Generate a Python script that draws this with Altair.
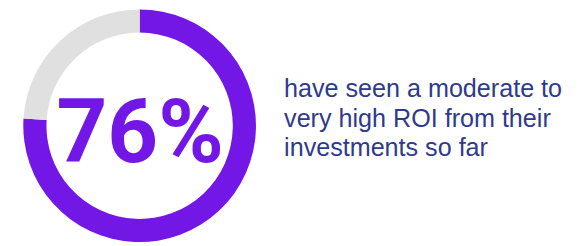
import altair as alt
import pandas as pd

categories = ["moderate to very high ROI", "other"]
shares = [76, 24]
order_idx = [0, 1]
big_label = "76%"
caption_lines = ["have seen a moderate to", "very high ROI from their", "investments so far"]

PURPLE = "#7317E6"
GREY = "#E0E0E0"
NAVY = "#2E3A8C"

df = pd.DataFrame({"category": categories, "share": shares, "ord": order_idx})

CX, CY = 133.5, 117.7

donut = alt.Chart(df).mark_arc(stroke=None).encode(
    theta=alt.Theta("share:Q", stack=True),
    order=alt.Order("ord:Q"),
    color=alt.Color("category:N", scale=alt.Scale(domain=categories, range=[PURPLE, GREY]), legend=None),
    x=alt.value(CX),
    y=alt.value(CY),
    radius=alt.value(118),
    radius2=alt.value(94.5),
)

big = alt.Chart(pd.DataFrame({"t": [big_label]})).mark_text(
    font="Roboto, Liberation Sans, sans-serif",
    fontWeight="bold",
    fontSize=90,
    color=PURPLE,
    align="center",
    baseline="alphabetic",
).encode(text="t:N", x=alt.value(134), y=alt.value(154))

caption = alt.Chart(pd.DataFrame({"t": [0]})).mark_text(
    font="Liberation Sans, Arial, sans-serif",
    fontSize=25.5,
    color=NAVY,
    align="left",
    baseline="alphabetic",
    lineHeight=29.8,
).encode(text=alt.value(caption_lines), x=alt.value(280), y=alt.value(89))

chart = alt.layer(donut, big, caption).properties(
    width=572, height=240,
    autosize=alt.AutoSizeParams(type="none"),
    padding=0,
).configure_view(stroke=None)

chart.save("out.html", embed_options={"renderer": "svg", "actions": False})
